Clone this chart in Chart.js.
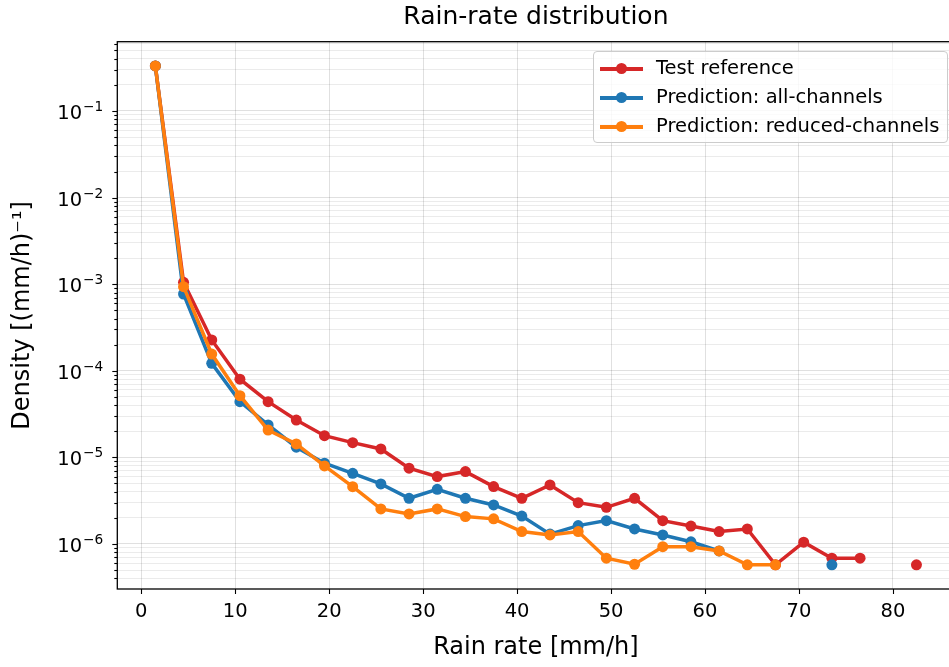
<!DOCTYPE html>
<html>
<head>
<meta charset="utf-8">
<script src="https://cdn.jsdelivr.net/npm/chart.js@4.4.1/dist/chart.umd.min.js"></script>
<style>
  html, body { margin: 0; padding: 0; background: #fff; overflow: hidden; }
  #wrap { position: relative; width: 960px; height: 667px; }
  #legend {
    position: absolute; left: 593px; top: 51px; width: 353px; height: 90px;
    border: 1px solid #cccccc; border-radius: 4px; background: rgba(255,255,255,0.8);
    font-family: "DejaVu Sans", sans-serif; font-size: 19.5px; color: #000;
  }
  .item { position: absolute; left: 0; height: 29px; width: 100%; }
  .line { position: absolute; left: 6px; width: 43px; height: 3.5px; top: 13px; }
  .dot { position: absolute; left: 22px; top: 9px; width: 11px; height: 11px; border-radius: 50%; }
  .txt { position: absolute; left: 62px; top: 0px; line-height: 27px; white-space: nowrap; }
</style>
</head>
<body>
<div id="wrap">
  <canvas id="rainChart" width="960" height="667"></canvas>
  <div id="legend"></div>
</div>
<script>
// bin centres [mm/h]
const rainRate = [1.5, 4.5, 7.5, 10.5, 13.5, 16.5, 19.5, 22.5, 25.5, 28.5, 31.5, 34.5, 37.5, 40.5,
                  43.5, 46.5, 49.5, 52.5, 55.5, 58.5, 61.5, 64.5, 67.5, 70.5, 73.5, 76.5, 79.5, 82.5]

const testReference = [0.331, 1.05e-3, 2.27e-4, 8.0e-5, 4.4e-5, 2.7e-5, 1.78e-5, 1.48e-5, 1.25e-5, 7.5e-6,
                       6.0e-6, 6.85e-6, 4.6e-6, 3.37e-6, 4.8e-6, 3.0e-6, 2.65e-6, 3.37e-6, 1.86e-6, 1.61e-6,
                       1.39e-6, 1.49e-6, 5.75e-7, 1.05e-6, 6.85e-7, 6.85e-7, null, 5.75e-7]

const predAllChannels = [0.331, 7.7e-4, 1.22e-4, 4.4e-5, 2.37e-5, 1.31e-5, 8.55e-6, 6.55e-6, 4.93e-6, 3.37e-6,
                         4.28e-6, 3.37e-6, 2.82e-6, 2.1e-6, 1.3e-6, 1.63e-6, 1.86e-6, 1.49e-6, 1.27e-6, 1.06e-6,
                         8.3e-7, null, null, null, 5.75e-7, null, null, null]

const predReducedChannels = [0.331, 9.36e-4, 1.56e-4, 5.16e-5, 2.07e-5, 1.43e-5, 7.96e-6, 4.59e-6, 2.54e-6, 2.22e-6,
                             2.54e-6, 2.07e-6, 1.95e-6, 1.39e-6, 1.27e-6, 1.39e-6, 6.85e-7, 5.83e-7, 9.3e-7, 9.3e-7,
                             8.3e-7, 5.75e-7, 5.75e-7, null, null, null, null, null]

const seriesLabels = ['Test reference', 'Prediction: all-channels', 'Prediction: reduced-channels']
const seriesColors = ['#d62728', '#1f77b4', '#ff7f0e']

const xTicks = [0, 10, 20, 30, 40, 50, 60, 70, 80]
const chartTitle = 'Rain-rate distribution'

const FONT = '"DejaVu Sans", sans-serif'

const isDecade = (v) => {
    const e = Math.round(Math.log10(v))
    return Math.abs(v - Math.pow(10, e)) / v < 1e-6
}

// title centred on the axes, spines, tick marks and 10^n labels like matplotlib
const framePlugin = {
    id: 'frame',
    afterDraw(chart) {
        const {ctx, chartArea: a, scales} = chart
        ctx.save()
        ctx.fillStyle = '#000'
        ctx.font = '25px ' + FONT
        ctx.textAlign = 'center'
        ctx.textBaseline = 'alphabetic'
        ctx.fillText(chartTitle, (a.left + a.right) / 2, 24)

        ctx.strokeStyle = '#000'
        ctx.lineWidth = 1.1
        for (const t of scales.x.ticks) {
            const px = Math.round(scales.x.getPixelForValue(t.value)) + 0.5
            ctx.beginPath(); ctx.moveTo(px, a.bottom); ctx.lineTo(px, a.bottom + 5); ctx.stroke()
        }
        ctx.textAlign = 'right'
        for (const t of scales.y.ticks) {
            const py = Math.round(scales.y.getPixelForValue(t.value)) + 0.5
            const major = isDecade(t.value)
            const len = major ? 5 : 3
            ctx.beginPath(); ctx.moveTo(a.left, py); ctx.lineTo(a.left - len, py); ctx.stroke()
            if (major) {
                const exp = '\u2212' + Math.abs(Math.round(Math.log10(t.value)))
                const right = a.left - 14
                ctx.font = '13.7px ' + FONT
                const w = ctx.measureText(exp).width
                ctx.fillText(exp, right, py - 0.5)
                ctx.font = '19.5px ' + FONT
                ctx.fillText('10', right - w - 1, py + 7)
            }
        }
        ctx.lineWidth = 1.3
        ctx.strokeRect(a.left, a.top, a.right - a.left, a.bottom - a.top)
        ctx.restore()
    }
}

const rainRateChart = () => {
    const canvas = document.querySelector('#rainChart')
    const allSeries = [testReference, predAllChannels, predReducedChannels]

    const datasets = allSeries.map((values, i) => ({
        label: seriesLabels[i],
        data: rainRate.map((x, j) => ({x: x, y: values[j]})),
        borderColor: seriesColors[i],
        backgroundColor: seriesColors[i],
        borderWidth: 3.5,
        pointRadius: 5.5,
        pointHoverRadius: 5.5,
        pointBorderWidth: 0,
        spanGaps: false,
        order: 2 - i,
    }))

    new Chart(canvas, {
        type: 'line',
        data: { datasets },
        options: {
            responsive: false,
            animation: false,
            devicePixelRatio: 1,
            layout: { padding: { left: 0, right: 1.3, top: 41.7, bottom: 0 } },
            plugins: {
                legend: { display: false },
                tooltip: { enabled: false },
                title: { display: false },
            },
            scales: {
                x: {
                    type: 'linear',
                    min: -2.55,
                    max: 86.55,
                    afterBuildTicks: (scale) => { scale.ticks = xTicks.map(v => ({value: v})) },
                    afterFit: (scale) => { scale.height = 78 },
                    border: { display: false },
                    grid: { color: 'rgba(0,0,0,0.12)', lineWidth: 1, drawTicks: false },
                    ticks: {
                        color: '#000',
                        padding: 11,
                        autoSkip: false,
                        maxRotation: 0,
                        font: { family: FONT, size: 19.5 },
                        callback: (v) => String(v),
                    },
                    title: {
                        display: true,
                        text: 'Rain rate [mm/h]',
                        color: '#000',
                        font: { family: FONT, size: 24 },
                        padding: { top: 0, bottom: 5 },
                    },
                },
                y: {
                    type: 'logarithmic',
                    min: 3.02e-7,
                    max: 0.631,
                    afterBuildTicks: (scale) => {
                        const ticks = []
                        for (let e = -7; e <= 0; e++) {
                            for (let m = 1; m <= 9; m++) {
                                const v = m * Math.pow(10, e)
                                if (v >= scale.min && v <= scale.max) ticks.push({value: v})
                            }
                        }
                        scale.ticks = ticks
                    },
                    afterFit: (scale) => { scale.width = 117.3 },
                    border: { display: false },
                    grid: {
                        drawTicks: false,
                        lineWidth: 1,
                        color: (ctx) => ctx.tick && isDecade(ctx.tick.value) ? 'rgba(0,0,0,0.12)' : 'rgba(0,0,0,0.08)',
                    },
                    ticks: {
                        autoSkip: false,
                        // the 10^n labels are drawn by framePlugin with a real superscript
                        callback: () => '',
                    },
                    title: {
                        display: true,
                        text: 'Density [(mm/h)⁻¹]',
                        color: '#000',
                        font: { family: FONT, size: 24 },
                        padding: { top: 8, bottom: 0 },
                    },
                },
            },
        },
        plugins: [framePlugin],
    })

    // legend box inside the axes (top right)
    const legend = document.querySelector('#legend')
    seriesLabels.forEach((label, i) => {
        const item = document.createElement('div')
        item.className = 'item'
        item.style.top = (2 + i * 29) + 'px'
        item.innerHTML = `<div class="line" style="background:${seriesColors[i]}"></div>` +
                         `<div class="dot" style="background:${seriesColors[i]}"></div>` +
                         `<div class="txt">${label}</div>`
        legend.appendChild(item)
    })
}

rainRateChart()
</script>
</body>
</html>
